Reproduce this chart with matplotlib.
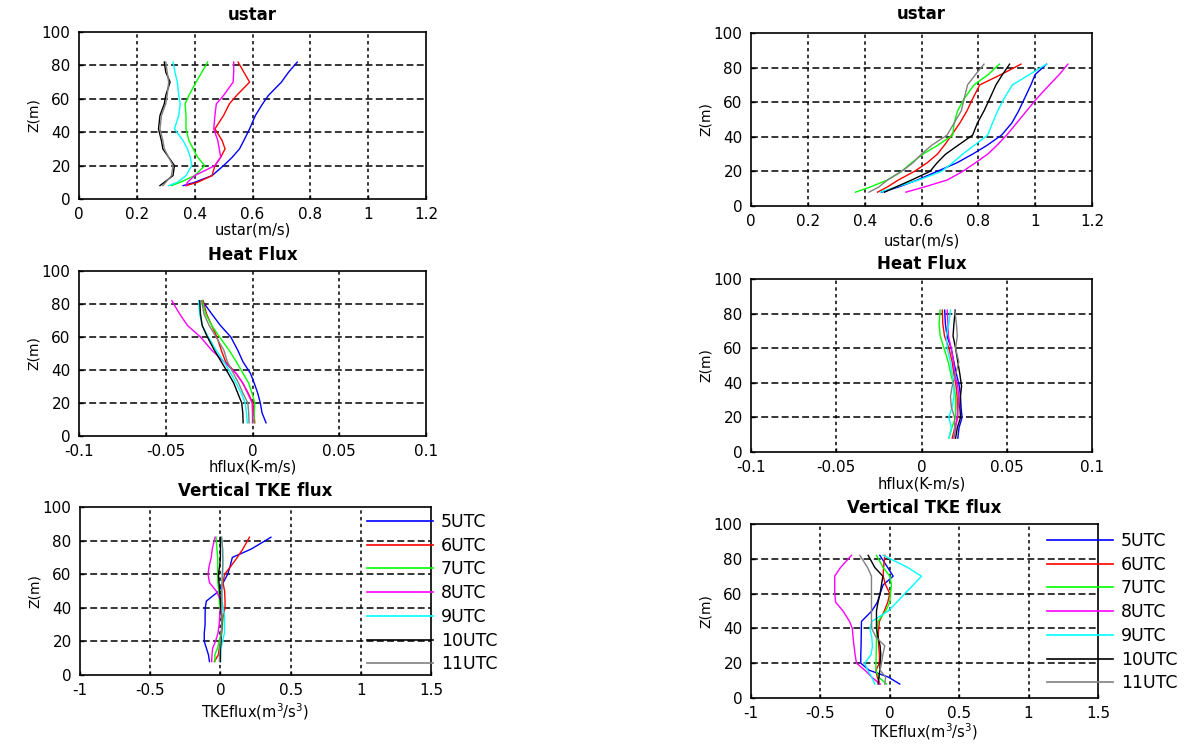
import matplotlib
matplotlib.use("Agg")
import matplotlib.pyplot as plt

plt.rcParams["font.family"] = ["DejaVu Sans"]
plt.rcParams["axes.unicode_minus"] = False

# ---------------- data ----------------
hours = ["5UTC", "6UTC", "7UTC", "8UTC", "9UTC", "10UTC", "11UTC"]
colors = ["#0000ff", "#ff0000", "#00ff00", "#ff00ff", "#00ffff", "#000000", "#808080"]

# heights (m)
z_ustar_left = [8, 10, 14, 20, 25, 30, 35, 42, 50, 57, 62, 70, 76, 82]
z_ustar_right = [8, 11, 15, 20, 25, 30, 35, 41, 48, 55, 62, 70, 76, 82]
z_heat = [8, 14, 20, 26, 32, 38, 45, 52, 60, 67, 74, 82]
z_tke = [8, 12, 16, 20, 25, 30, 35, 40, 44, 50, 55, 60, 65, 70, 75, 82]

# friction velocity (m/s), rows = 5UTC..11UTC
ustar_left = [
    [0.36, 0.40, 0.46, 0.50, 0.53, 0.555, 0.57, 0.59, 0.61, 0.635, 0.655, 0.70, 0.725, 0.755],
    [0.37, 0.41, 0.46, 0.47, 0.49, 0.505, 0.495, 0.47, 0.50, 0.52, 0.545, 0.59, 0.57, 0.55],
    [0.32, 0.35, 0.40, 0.435, 0.41, 0.395, 0.38, 0.37, 0.37, 0.367, 0.38, 0.405, 0.425, 0.445],
    [0.37, 0.375, 0.40, 0.47, 0.49, 0.485, 0.48, 0.466, 0.47, 0.475, 0.50, 0.533, 0.535, 0.535],
    [0.31, 0.34, 0.37, 0.39, 0.385, 0.375, 0.36, 0.33, 0.345, 0.35, 0.345, 0.34, 0.332, 0.325],
    [0.28, 0.295, 0.325, 0.33, 0.31, 0.29, 0.285, 0.275, 0.28, 0.295, 0.30, 0.315, 0.30, 0.295],
    [0.29, 0.30, 0.32, 0.325, 0.31, 0.295, 0.29, 0.28, 0.285, 0.30, 0.305, 0.31, 0.305, 0.30],
]
ustar_right = [
    [0.46, 0.52, 0.585, 0.655, 0.725, 0.78, 0.83, 0.882, 0.918, 0.942, 0.962, 0.985, 1.0, 1.04],
    [0.445, 0.48, 0.518, 0.575, 0.62, 0.656, 0.68, 0.706, 0.735, 0.76, 0.78, 0.805, 0.88, 0.95],
    [0.368, 0.42, 0.48, 0.53, 0.565, 0.605, 0.656, 0.71, 0.715, 0.727, 0.75, 0.785, 0.835, 0.874],
    [0.545, 0.61, 0.69, 0.745, 0.79, 0.833, 0.865, 0.90, 0.935, 0.97, 1.005, 1.05, 1.085, 1.115],
    [0.455, 0.51, 0.59, 0.67, 0.71, 0.745, 0.785, 0.833, 0.85, 0.868, 0.89, 0.92, 0.98, 1.04],
    [0.47, 0.51, 0.565, 0.63, 0.655, 0.685, 0.728, 0.78, 0.797, 0.82, 0.84, 0.862, 0.885, 0.91],
    [0.415, 0.45, 0.48, 0.53, 0.57, 0.60, 0.635, 0.69, 0.715, 0.74, 0.75, 0.762, 0.79, 0.82],
]

# heat flux (K m/s)
hflux_left = [
    [0.0078, 0.0055, 0.0045, 0.003, 0.001, -0.0012, -0.0055, -0.0085, -0.0125, -0.0185, -0.0235, -0.029],
    [0.0013, 0.0008, 0.0002, -0.0025, -0.0056, -0.0095, -0.0155, -0.018, -0.0205, -0.0235, -0.0265, -0.0285],
    [0.0008, 0.001, 0.0013, -0.0003, -0.0022, -0.0055, -0.0093, -0.0135, -0.019, -0.0235, -0.027, -0.029],
    [0.0, 0.0, -0.0002, -0.0028, -0.0055, -0.0095, -0.0165, -0.0235, -0.030, -0.0375, -0.042, -0.0465],
    [-0.003, -0.0035, -0.0042, -0.0065, -0.0094, -0.0125, -0.0165, -0.021, -0.0255, -0.029, -0.0305, -0.031],
    [-0.0054, -0.0056, -0.0062, -0.0085, -0.0108, -0.014, -0.018, -0.022, -0.026, -0.029, -0.030, -0.0304],
    [-0.002, -0.0022, -0.0027, -0.0055, -0.008, -0.011, -0.0145, -0.0165, -0.021, -0.025, -0.028, -0.0294],
]
hflux_right = [
    [0.0213, 0.022, 0.0238, 0.0232, 0.0229, 0.0222, 0.0205, 0.019, 0.0174, 0.015, 0.014, 0.0136],
    [0.018, 0.0195, 0.0213, 0.021, 0.0209, 0.0203, 0.019, 0.018, 0.0161, 0.0135, 0.0125, 0.0122],
    [0.0161, 0.0178, 0.020, 0.020, 0.020, 0.019, 0.0172, 0.0157, 0.0132, 0.011, 0.0103, 0.0109],
    [0.019, 0.020, 0.0209, 0.0215, 0.0219, 0.0212, 0.0195, 0.0188, 0.0174, 0.0158, 0.0155, 0.0151],
    [0.0161, 0.0175, 0.016, 0.018, 0.019, 0.019, 0.018, 0.017, 0.0151, 0.0145, 0.016, 0.017],
    [0.020, 0.021, 0.0229, 0.0225, 0.0228, 0.0235, 0.0225, 0.0213, 0.020, 0.0185, 0.019, 0.0198],
    [0.019, 0.0195, 0.0194, 0.0175, 0.017, 0.018, 0.020, 0.0219, 0.020, 0.021, 0.0205, 0.0195],
]

# vertical TKE flux (m3/s3)
tke_left = [
    [-0.078, -0.085, -0.10, -0.115, -0.115, -0.109, -0.109, -0.108, -0.10, -0.01, 0.02, 0.052, 0.07, 0.085, 0.22, 0.36],
    [-0.043, -0.015, -0.008, 0.0, 0.006, 0.012, 0.02, 0.033, 0.033, 0.03, 0.018, 0.03, 0.077, 0.12, 0.16, 0.207],
    [-0.038, -0.04, -0.02, -0.01, 0.005, 0.015, 0.015, -0.005, -0.007, -0.012, -0.018, -0.019, -0.019, -0.019, -0.025, -0.031],
    [-0.062, -0.06, -0.055, -0.035, -0.017, -0.009, -0.005, 0.0, 0.005, -0.03, -0.078, -0.088, -0.08, -0.065, -0.058, -0.038],
    [0.0, 0.002, 0.005, 0.015, 0.029, 0.029, 0.029, 0.02, 0.012, 0.01, 0.012, 0.017, 0.017, 0.017, 0.017, 0.005],
    [0.0, 0.0, 0.0, 0.005, 0.008, 0.01, 0.008, 0.003, 0.0, -0.005, -0.01, -0.014, -0.005, 0.0, 0.0, 0.0],
    [-0.007, -0.007, -0.005, 0.0, 0.008, 0.01, 0.01, 0.01, 0.01, 0.01, 0.012, 0.013, 0.017, 0.017, 0.015, 0.01],
]
tke_right = [
    [0.072, -0.01, -0.15, -0.209, -0.209, -0.207, -0.206, -0.205, -0.204, -0.13, -0.09, -0.07, -0.048, 0.024, -0.015, -0.072],
    [-0.072, -0.09, -0.10, -0.075, -0.075, -0.08, -0.084, -0.08, -0.075, -0.04, -0.015, 0.0, -0.03, -0.048, -0.045, -0.036],
    [-0.024, -0.08, -0.10, -0.10, -0.098, -0.097, -0.096, -0.09, -0.085, -0.03, 0.0, 0.005, 0.012, 0.0, -0.048, -0.096],
    [-0.07, -0.13, -0.18, -0.24, -0.25, -0.258, -0.265, -0.27, -0.29, -0.337, -0.39, -0.397, -0.397, -0.397, -0.355, -0.276],
    [-0.108, -0.13, -0.16, -0.18, -0.135, -0.125, -0.13, -0.144, -0.13, -0.012, 0.05, 0.108, 0.17, 0.228, 0.13, -0.048],
    [-0.084, -0.078, -0.072, -0.07, -0.065, -0.07, -0.085, -0.096, -0.096, -0.096, -0.085, -0.07, -0.06, -0.05, -0.108, -0.156],
    [-0.036, -0.03, -0.07, -0.06, -0.05, -0.036, -0.10, -0.13, -0.132, -0.132, -0.132, -0.132, -0.132, -0.132, -0.16, -0.216],
]

ustar_ticks = [0, 0.2, 0.4, 0.6, 0.8, 1.0, 1.2]
ustar_ticklabels = ["0", "0.2", "0.4", "0.6", "0.8", "1", "1.2"]
heat_ticks = [-0.1, -0.05, 0, 0.05, 0.1]
heat_ticklabels = ["-0.1", "-0.05", "0", "0.05", "0.1"]
tke_ticks = [-1, -0.5, 0, 0.5, 1, 1.5]
tke_ticklabels = ["-1", "-0.5", "0", "0.5", "1", "1.5"]
z_ticks = [0, 20, 40, 60, 80, 100]
z_ticklabels = ["0", "20", "40", "60", "80", "100"]

# ---------------- figure ----------------
W, H = 1188, 744
fig = plt.figure(figsize=(W / 100, H / 100), dpi=100)


def px_axes(left, top, right, bottom):
    return fig.add_axes([left / W, 1 - bottom / H, (right - left) / W, (bottom - top) / H])


def style(ax, title, xlabel, xticks, xticklabels, title_pad, xlabel_pad):
    ax.set_xlim(xticks[0], xticks[-1])
    ax.set_ylim(0, 100)
    ax.set_xticks(xticks)
    ax.set_xticklabels(xticklabels)
    ax.set_yticks(z_ticks)
    ax.set_yticklabels(z_ticklabels)
    ax.tick_params(direction="in", length=3, width=1, labelsize=11, pad=6, colors="black")
    for sp in ax.spines.values():
        sp.set_linewidth(1.2)
        sp.set_color("black")
    for x in xticks[1:-1]:
        ax.axvline(x, color="black", lw=1.1, ls=(0, (2.2, 2.2)), zorder=0.5)
    for y in z_ticks[1:-1]:
        ax.axhline(y, color="black", lw=1.1, ls=(0, (4.5, 2.2)), zorder=0.5)
    ax.set_title(title, fontsize=12, fontweight="bold", pad=title_pad)
    ax.set_xlabel(xlabel, fontsize=10.5, labelpad=xlabel_pad)
    ax.set_ylabel("Z(m)", fontsize=10, labelpad=1)


def draw(ax, z, table):
    lines = []
    for vals, c, lab in zip(table, colors, hours):
        (ln,) = ax.plot(vals, z, color=c, lw=1.0, label=lab, zorder=2)
        lines.append(ln)
    return lines


# left column
ax1 = px_axes(79, 32, 426, 199)
draw(ax1, z_ustar_left, ustar_left)
style(ax1, "ustar", "ustar(m/s)", ustar_ticks, ustar_ticklabels, 9, 0)

ax2 = px_axes(79, 271, 426, 436)
draw(ax2, z_heat, hflux_left)
style(ax2, "Heat Flux", "hflux(K-m/s)", heat_ticks, heat_ticklabels, 8, 0)

ax3 = px_axes(80, 507, 431, 675)
l3 = draw(ax3, z_tke, tke_left)
style(ax3, "Vertical TKE flux", "TKEflux(m$^3$/s$^3$)", tke_ticks, tke_ticklabels, 8, 2)

# right column
ax4 = px_axes(751, 33, 1092, 206)
draw(ax4, z_ustar_right, ustar_right)
style(ax4, "ustar", "ustar(m/s)", ustar_ticks, ustar_ticklabels, 10, 3)

ax5 = px_axes(751, 279, 1092, 452)
draw(ax5, z_heat, hflux_right)
style(ax5, "Heat Flux", "hflux(K-m/s)", heat_ticks, heat_ticklabels, 7, 1)

ax6 = px_axes(751, 524, 1098, 698)
l6 = draw(ax6, z_tke, tke_right)
style(ax6, "Vertical TKE flux", "TKEflux(m$^3$/s$^3$)", tke_ticks, tke_ticklabels, 8, 0)


def add_legend(ax, handles, x_px, top_px):
    leg = ax.legend(handles=handles, labels=hours, loc="upper left",
                    bbox_to_anchor=(x_px / W, 1 - top_px / H),
                    bbox_transform=fig.transFigure, frameon=False,
                    fontsize=12.5, handlelength=3.8, handletextpad=0.45,
                    labelspacing=0.33, borderpad=0, borderaxespad=0)
    for ln in leg.get_lines():
        ln.set_linewidth(1.2)
    leg.set_zorder(5)
    leg.set_clip_on(False)


add_legend(ax3, l3, 367, 513)
add_legend(ax6, l6, 1047, 532)

fig.savefig("out.png", dpi=100)
